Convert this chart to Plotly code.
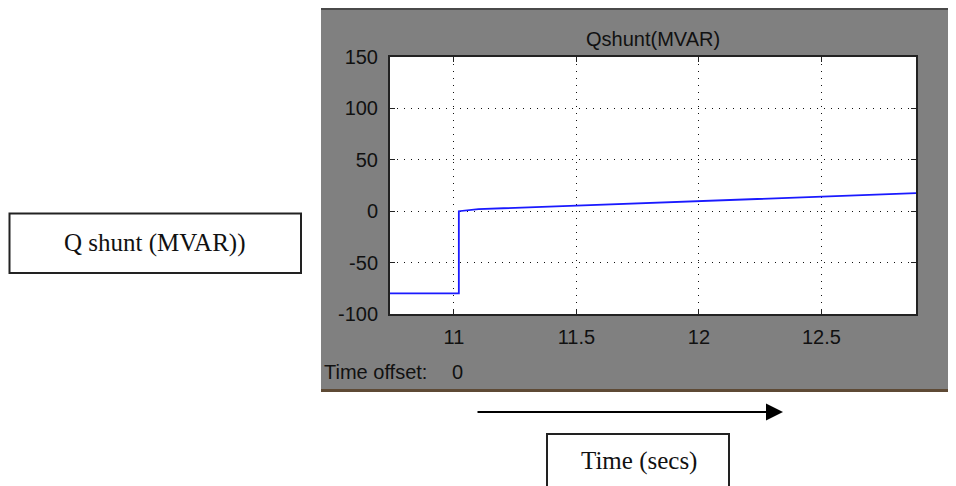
import plotly.graph_objects as go

# ---- data ----
time_s = [10.739, 11.02, 11.02, 11.06, 11.10, 11.5, 12.0, 12.5, 12.886]
q_shunt = [-80, -80, 0, 1, 2, 5.5, 10, 14.5, 17.5]

x_tickvals = [11, 11.5, 12, 12.5]
x_ticktext = ["11", "11.5", "12", "12.5"]
y_tickvals = [-100, -50, 0, 50, 100, 150]
y_ticktext = ["-100", "-50", "0", "50", "100", "150"]

title_text = "Qshunt(MVAR)"
left_label = "Q shunt (MVAR))"
bottom_label = "Time (secs)"
offset_text = "Time offset:"
offset_value = "0"

# ---- layout geometry (pixels, in window coordinates) ----
OFF = 8  # page body margin
W, H = 956, 486 - OFF
L, R, T, B = 390, 916, 57, 314  # plot area in window coords


def px(X):
    return (X - L) / (R - L)


def py(Y):
    return (B - Y) / (B - T)


fig = go.Figure()
fig.add_trace(go.Scatter(
    x=time_s, y=q_shunt, mode="lines",
    line=dict(color="#1a1aff", width=1.8),
    showlegend=False, hoverinfo="x+y",
))

axis_common = dict(
    showgrid=True, gridcolor="#111111", griddash="1px,6px", gridwidth=1,
    zeroline=False, showline=True, linecolor="#222222", linewidth=2,
    mirror="ticks", ticks="inside", ticklen=5, tickcolor="#222222",
    tickfont=dict(family="Liberation Sans, Arial, sans-serif", size=20, color="#111111"),
)

fig.update_layout(
    width=W, height=H,
    margin=dict(l=L - OFF, r=W + OFF - R, t=T - OFF, b=486 - B, pad=0),
    paper_bgcolor="white", plot_bgcolor="white",
    xaxis=dict(range=[10.739, 12.886], tickvals=x_tickvals, ticktext=x_ticktext,
               ticklabelstandoff=4, **axis_common),
    yaxis=dict(range=[-100, 150], tickvals=y_tickvals, ticktext=y_ticktext,
               ticklabelstandoff=6, **axis_common),
)

shapes = [
    # gray scope panel
    dict(type="rect", xref="paper", yref="paper", layer="below",
         x0=px(321), x1=px(966), y0=py(389), y1=py(9),
         fillcolor="#808080", line=dict(width=0)),
    # dark top edge
    dict(type="line", xref="paper", yref="paper", layer="below",
         x0=px(321), x1=px(966), y0=py(9), y1=py(9),
         line=dict(color="#4a4a4a", width=2)),
    # brown bottom edge
    dict(type="line", xref="paper", yref="paper", layer="below",
         x0=px(321), x1=px(966), y0=py(390.5), y1=py(390.5),
         line=dict(color="#5e4a35", width=3)),
    # white plot area
    dict(type="rect", xref="paper", yref="paper", layer="below",
         x0=0, x1=1, y0=0, y1=1, fillcolor="white", line=dict(width=0)),
    # left label box
    dict(type="rect", xref="paper", yref="paper",
         x0=px(9.5), x1=px(301), y0=py(273), y1=py(213.5),
         fillcolor="rgba(0,0,0,0)", line=dict(color="#222222", width=2)),
    # bottom label box
    dict(type="rect", xref="paper", yref="paper",
         x0=px(547), x1=px(729), y0=py(492), y1=py(434),
         fillcolor="rgba(0,0,0,0)", line=dict(color="#222222", width=2)),
]
fig.update_layout(shapes=shapes)

serif = "Liberation Serif, Times New Roman, serif"
sans = "Liberation Sans, Arial, sans-serif"
annotations = [
    dict(xref="paper", yref="paper", x=px(653), y=py(39), text=title_text,
         showarrow=False, xanchor="center", yanchor="middle",
         font=dict(family=sans, size=20, color="#111111")),
    dict(xref="paper", yref="paper", x=px(322), y=py(372), text=offset_text,
         showarrow=False, xanchor="left", yanchor="middle",
         font=dict(family=sans, size=20, color="#111111")),
    dict(xref="paper", yref="paper", x=px(457), y=py(372), text=offset_value,
         showarrow=False, xanchor="center", yanchor="middle",
         font=dict(family=sans, size=20, color="#111111")),
    dict(xref="paper", yref="paper", x=px(155), y=py(243), text=left_label,
         showarrow=False, xanchor="center", yanchor="middle",
         font=dict(family=serif, size=25, color="#111111")),
    dict(xref="paper", yref="paper", x=px(639), y=py(461), text=bottom_label,
         showarrow=False, xanchor="center", yanchor="middle",
         font=dict(family=serif, size=25, color="#111111")),
    # arrow under the chart
    dict(xref="paper", yref="paper", x=px(783), y=py(412), text="",
         showarrow=True, ax=-307, ay=0, axref="pixel", ayref="pixel",
         arrowhead=2, arrowsize=1.7, arrowwidth=2, arrowcolor="#000000"),
]
fig.update_layout(annotations=annotations)

fig.write_html("out.html")
